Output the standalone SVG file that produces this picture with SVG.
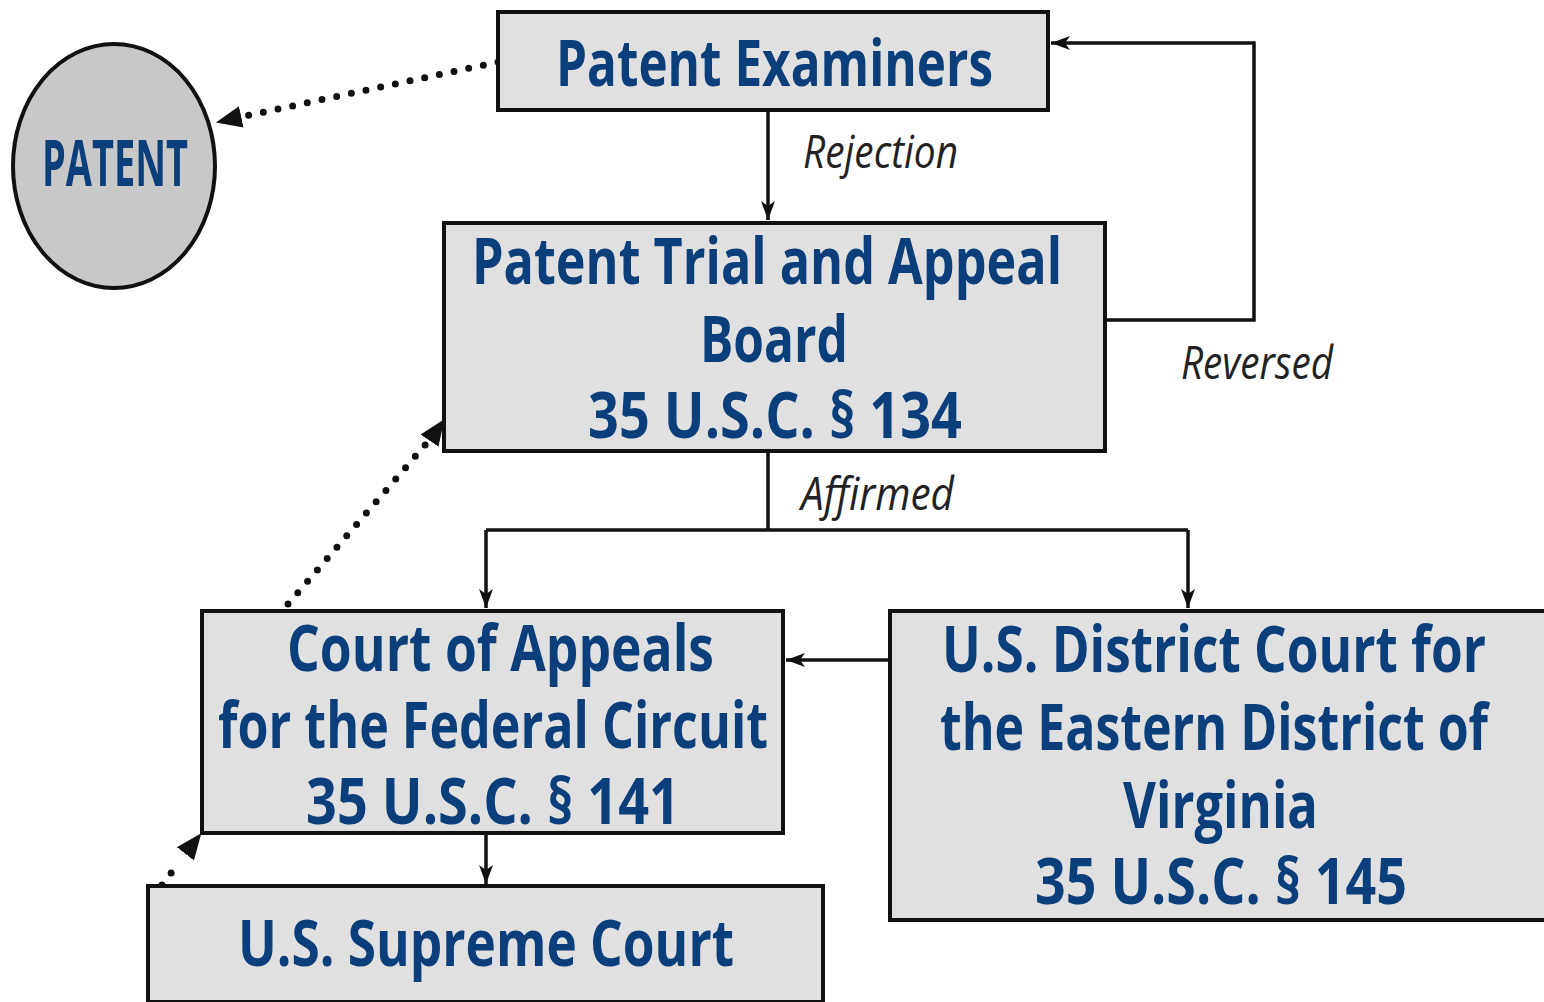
<svg xmlns="http://www.w3.org/2000/svg" width="1544" height="1002" viewBox="0 0 1544 1002">
<style>
.box{fill:#e0e0e0;stroke:#111;stroke-width:4}
.oval{fill:#c8c8c8;stroke:#111;stroke-width:4}
.t{font-family:"Open Sans","Noto Sans",sans-serif;font-weight:bold;fill:#0b3f7c;font-size:64px}
.lbl{font-family:"Open Sans","Noto Sans",sans-serif;font-style:italic;fill:#222;font-size:46px}
.ln{fill:none;stroke:#111;stroke-width:3.5}
.dot{fill:none;stroke:#111;stroke-width:7;stroke-linecap:round;stroke-dasharray:0 15}
.hd{fill:none;stroke:none}
</style>
<defs>
<marker id="a" viewBox="0 0 20 20" refX="19" refY="10" markerWidth="20" markerHeight="20" markerUnits="userSpaceOnUse" orient="auto">
<path d="M0,3 L19,10 L0,17 L5,10 Z" fill="#111"/>
</marker>
<marker id="d" viewBox="0 0 24 24" refX="22" refY="12" markerWidth="26" markerHeight="26" markerUnits="userSpaceOnUse" orient="auto">
<path d="M0,2 L24,12 L0,22 Z" fill="#111"/>
</marker>
</defs>
<g id="connectors">
<path class="dot" d="M498,62 L236,118"/>
<path class="hd" d="M250,115 L218,122" marker-end="url(#d)"/>
<path class="ln" d="M768,110 L768,220" marker-end="url(#a)"/>
<path class="ln" d="M1105,320 L1254,320 L1254,43 L1051,43" marker-end="url(#a)"/>
<path class="ln" d="M768,451 L768,530 M486,530 L1188,530"/>
<path class="ln" d="M486,530 L486,608" marker-end="url(#a)"/>
<path class="ln" d="M1188,530 L1188,608" marker-end="url(#a)"/>
<path class="ln" d="M890,660 L786,660" marker-end="url(#a)"/>
<path class="ln" d="M486,834 L486,884" marker-end="url(#a)"/>
<path class="dot" d="M288,604 L432,437"/>
<path class="hd" d="M430,440 L443,421" marker-end="url(#d)"/>
<path class="dot" d="M162,885 L178,864"/>
<path class="hd" d="M186,853 L200,835" marker-end="url(#d)"/>
<text class="lbl" x="803" y="168" textLength="155" lengthAdjust="spacingAndGlyphs">Rejection</text>
<text class="lbl" x="1181" y="379" textLength="152" lengthAdjust="spacingAndGlyphs">Reversed</text>
<text class="lbl" x="801" y="510" textLength="153" lengthAdjust="spacingAndGlyphs">Affirmed</text>
</g>
<g id="patent">
<ellipse class="oval" cx="114" cy="166" rx="101" ry="122"/>
<text class="t" x="42" y="186" font-size="50" textLength="146" lengthAdjust="spacingAndGlyphs">PATENT</text>
</g>
<g id="examiners">
<rect class="box" x="498" y="12" width="550" height="98"/>
<text class="t" x="556" y="86" textLength="437" lengthAdjust="spacingAndGlyphs">Patent Examiners</text>
</g>
<g id="ptab">
<rect class="box" x="444" y="223" width="661" height="228"/>
<text class="t" x="472" y="284" textLength="590" lengthAdjust="spacingAndGlyphs">Patent Trial and Appeal</text>
<text class="t" x="700" y="362" textLength="148" lengthAdjust="spacingAndGlyphs">Board</text>
<text class="t" x="588" y="438" textLength="374" lengthAdjust="spacingAndGlyphs">35 U.S.C. § 134</text>
</g>
<g id="cafc">
<rect class="box" x="202" y="611" width="581" height="222"/>
<text class="t" x="287" y="671" textLength="427" lengthAdjust="spacingAndGlyphs">Court of Appeals</text>
<text class="t" x="218" y="748" textLength="550" lengthAdjust="spacingAndGlyphs">for the Federal Circuit</text>
<text class="t" x="306" y="824" textLength="374" lengthAdjust="spacingAndGlyphs">35 U.S.C. § 141</text>
</g>
<g id="district">
<rect class="box" x="890" y="611" width="660" height="309"/>
<text class="t" x="942" y="672" textLength="544" lengthAdjust="spacingAndGlyphs">U.S. District Court for</text>
<text class="t" x="940" y="750" textLength="548" lengthAdjust="spacingAndGlyphs">the Eastern District of</text>
<text class="t" x="1123" y="828" textLength="195" lengthAdjust="spacingAndGlyphs">Virginia</text>
<text class="t" x="1035" y="904" textLength="372" lengthAdjust="spacingAndGlyphs">35 U.S.C. § 145</text>
</g>
<g id="supreme">
<rect class="box" x="148" y="886" width="675" height="116"/>
<text class="t" x="238" y="966" textLength="496" lengthAdjust="spacingAndGlyphs">U.S. Supreme Court</text>
</g>
</svg>
